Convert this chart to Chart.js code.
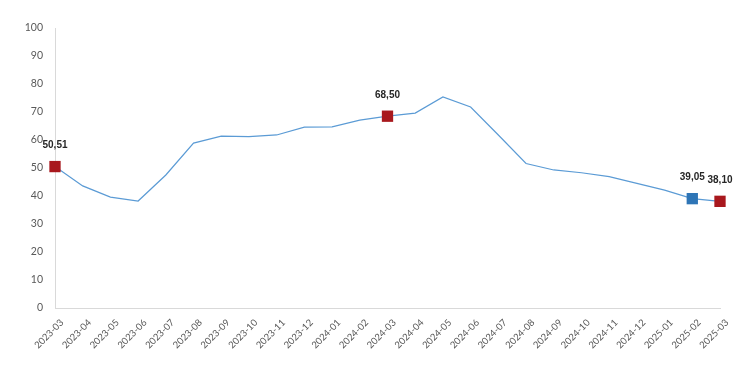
<!DOCTYPE html>
<html>
<head>
<meta charset="utf-8">
<script src="https://cdn.jsdelivr.net/npm/chart.js@4"></script>
<style>
  html, body { margin: 0; padding: 0; background: #fff; }
  #wrap { width: 750px; height: 372px; }
</style>
</head>
<body>
<div id="wrap"><canvas id="chart" width="750" height="372"></canvas></div>
<script>
// Monthly series, 2023-03 .. 2025-03
const months = [
    '2023-03', '2023-04', '2023-05', '2023-06', '2023-07', '2023-08', '2023-09',
    '2023-10', '2023-11', '2023-12', '2024-01', '2024-02', '2024-03', '2024-04',
    '2024-05', '2024-06', '2024-07', '2024-08', '2024-09', '2024-10', '2024-11',
    '2024-12', '2025-01', '2025-02', '2025-03'
];
const values = [
    50.51, 43.6, 39.6, 38.2, 47.5, 58.9, 61.4,
    61.2, 61.8, 64.6, 64.7, 67.1, 68.50, 69.6,
    75.4, 71.8, 61.8, 51.6, 49.3, 48.3, 46.9,
    44.5, 42.1, 39.05, 38.10
];
// highlighted points: index -> marker colour
const highlightIdx = [0, 12, 23, 24];
const highlightColor = ['#A8181D', '#A8181D', '#2E75B6', '#A8181D'];
const yTicks = [0, 10, 20, 30, 40, 50, 60, 70, 80, 90, 100];

const colors = {
    line: '#5B9BD5',
    axis: '#D9D9D9',
    tick: '#595959',
    label: '#262626'
};

const markerColor = (i) => {
    const k = highlightIdx.indexOf(i);
    return k >= 0 ? highlightColor[k] : colors.line;
};

// Draws "50,51" style labels above the highlighted markers
const valueLabels = {
    id: 'valueLabels',
    afterDatasetsDraw(chart) {
        const ctx = chart.ctx;
        const meta = chart.getDatasetMeta(0);
        ctx.save();
        ctx.font = "bold 10px 'Liberation Sans', Arial, sans-serif";
        ctx.fillStyle = colors.label;
        ctx.textAlign = 'center';
        ctx.textBaseline = 'middle';
        highlightIdx.forEach(i => {
            const pt = meta.data[i];
            const txt = values[i].toFixed(2).replace('.', ',');
            ctx.fillText(txt, pt.x, pt.y - 21);
        });
        ctx.restore();
    }
};

new Chart(document.getElementById('chart'), {
    type: 'line',
    data: {
        labels: months,
        datasets: [{
            data: values,
            borderColor: colors.line,
            borderWidth: 1.2,
            tension: 0,
            fill: false,
            pointStyle: 'rect',
            pointRadius: values.map((v, i) => highlightIdx.includes(i) ? 8 : 0),
            pointBackgroundColor: values.map((v, i) => markerColor(i)),
            pointBorderColor: values.map((v, i) => markerColor(i)),
            pointBorderWidth: 0,
            pointHoverRadius: 0
        }]
    },
    options: {
        responsive: false,
        animation: false,
        events: [],
        layout: { padding: { top: 28, right: 30, left: 0, bottom: 0 } },
        plugins: {
            legend: { display: false },
            tooltip: { enabled: false }
        },
        scales: {
            x: {
                grid: { display: false, drawTicks: false },
                border: { color: colors.axis, width: 1 },
                afterFit: s => { s.height = 64; },
                ticks: {
                    color: colors.tick,
                    font: { family: 'Lato', size: 9.5 },
                    minRotation: 45,
                    maxRotation: 45,
                    autoSkip: false,
                    labelOffset: 7,
                    padding: 9
                }
            },
            y: {
                min: 0,
                max: 100,
                afterFit: s => { s.width = 55; },
                afterBuildTicks: s => { s.ticks = yTicks.map(v => ({ value: v })); },
                grid: { display: false, drawTicks: false },
                border: { color: colors.axis, width: 1 },
                ticks: {
                    color: colors.tick,
                    font: { family: 'Lato', size: 10.5 },
                    padding: 12
                }
            }
        }
    },
    plugins: [valueLabels]
});
</script>
</body>
</html>
